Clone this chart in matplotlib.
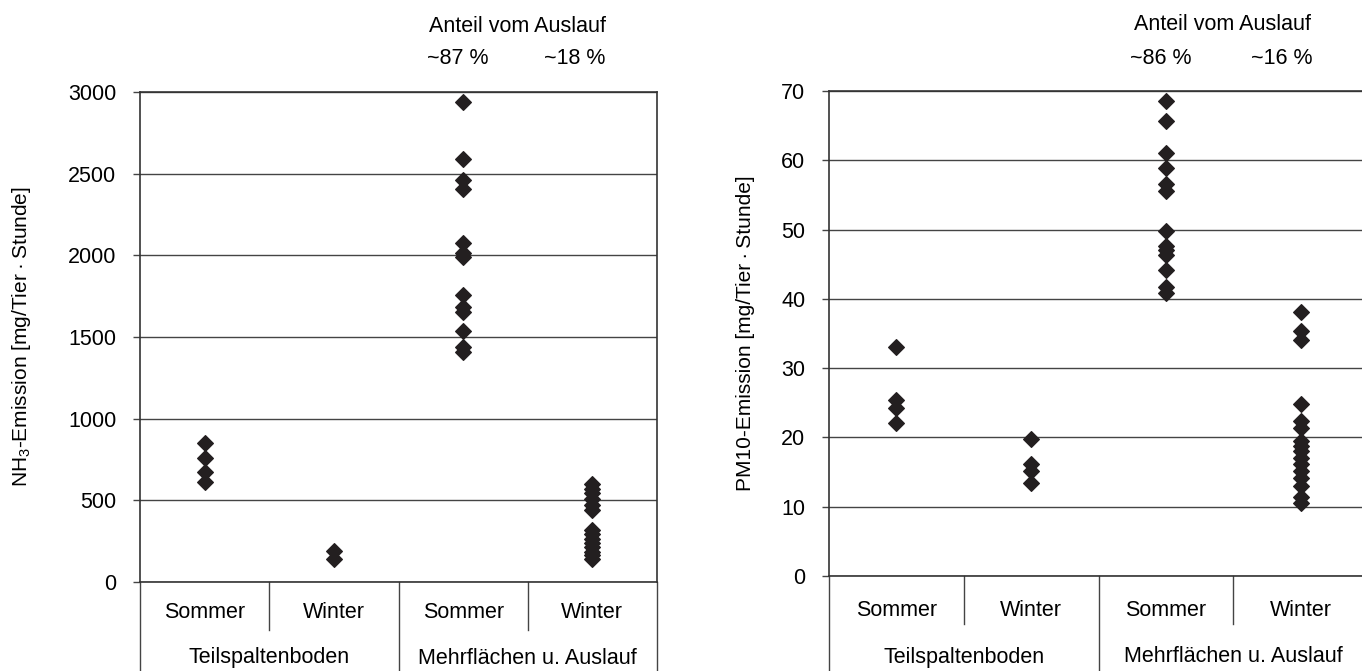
import matplotlib
matplotlib.use('Agg')
import matplotlib.pyplot as plt
from matplotlib.transforms import blended_transform_factory, offset_copy

plt.rcParams['font.family'] = ['Liberation Sans', 'DejaVu Sans']
plt.rcParams['mathtext.default'] = 'regular'

# categories
seasons = ['Sommer', 'Winter', 'Sommer', 'Winter']
systems = ['Teilspaltenboden', 'Mehrflächen u. Auslauf']

# NH3 emission [mg/Tier*Stunde]
nh3_tsb_sommer = [850, 760, 675, 615]
nh3_tsb_winter = [192, 142]
nh3_mf_sommer = [2940, 2590, 2460, 2405, 2075, 2015, 1990, 1755, 1685, 1655, 1535, 1440, 1410]
nh3_mf_winter = [598, 570, 545, 510, 470, 440, 320, 295, 265, 240, 215, 185, 165, 141]
nh3_share = ['~87 %', '~18 %']

# PM10 emission [mg/Tier*Stunde]
pm_tsb_sommer = [33.1, 25.4, 24.2, 22.1]
pm_tsb_winter = [19.75, 16.2, 15.1, 13.4]
pm_mf_sommer = [68.6, 65.6, 61.1, 58.9, 56.6, 55.5, 49.8, 47.6, 47.1, 46.3, 44.1, 41.7, 40.8]
pm_mf_winter = [38.1, 35.4, 34.1, 24.8, 22.4, 21.3, 19.5, 18.8, 18.1, 17.1, 16.2,
                15.2, 14.2, 13.0, 11.4, 10.6]
pm_share = ['~86 %', '~16 %']

FS = 15.5
DARK = '#231f20'
LINE = '#444444'

fig = plt.figure(figsize=(13.62, 6.71), dpi=100)


def draw_panel(rect, groups, ymax, step, ylabel, shares, label_x, sub_off, grp_off):
    ax = fig.add_axes(rect)
    for i, vals in enumerate(groups):
        ax.plot([i + 0.5] * len(vals), vals, linestyle='none', marker='D',
                ms=8.2, mew=0.8, color=DARK, mec=DARK, zorder=3)
    ax.set_xlim(0, 4)
    ax.set_ylim(0, ymax)
    ax.set_yticks(range(0, ymax + 1, step))
    ax.set_xticks([])
    ax.yaxis.grid(True, color=LINE, lw=1.0)
    ax.set_axisbelow(True)
    ax.tick_params(axis='y', length=5, width=1, color=LINE, pad=12, labelsize=FS)
    for sp in ax.spines.values():
        sp.set_color('#333333')
        sp.set_linewidth(1.2)
    ax.set_ylabel(ylabel, fontsize=15)
    ax.yaxis.set_label_coords(label_x, 0.5)

    h = ax.bbox.height
    trans = blended_transform_factory(ax.transData, ax.transAxes)

    # category labels below the axis
    for i, s in enumerate(seasons):
        ax.text(i + 0.5, 0, s, fontsize=FS, ha='center', va='center',
                transform=offset_copy(trans, fig, y=-sub_off, units='dots'))
    for j, s in enumerate(systems):
        ax.text(2 * j + 1, 0, s, fontsize=FS, ha='center', va='center',
                transform=offset_copy(trans, fig, y=-grp_off, units='dots'))

    # separators below the axis
    for x in [1, 3]:
        ax.plot([x, x], [0, -48 / h], color=LINE, lw=1.0, transform=trans, clip_on=False)
    for x in [0, 2, 4]:
        ax.plot([x, x], [0, -1], color=LINE, lw=1.0, transform=trans, clip_on=False)

    # share of the outdoor run
    ax.text(2.92, 1, 'Anteil vom Auslauf', fontsize=FS, ha='center', va='center',
            transform=offset_copy(trans, fig, y=66, units='dots'))
    for x, s in zip([2.46, 3.36], shares):
        ax.text(x, 1, s, fontsize=FS, ha='center', va='center',
                transform=offset_copy(trans, fig, y=33, units='dots'))
    return ax


W, H = 1362, 671
draw_panel([140 / W, 1 - 582 / H, 517 / W, 490 / H],
           [nh3_tsb_sommer, nh3_tsb_winter, nh3_mf_sommer, nh3_mf_winter],
           3000, 500, 'NH$_3$-Emission [mg/Tier\u2009·\u2009Stunde]', nh3_share,
           -0.207, 31, 76)
draw_panel([829 / W, 1 - 576 / H, 539 / W, 485 / H],
           [pm_tsb_sommer, pm_tsb_winter, pm_mf_sommer, pm_mf_winter],
           70, 10, 'PM10-Emission [mg/Tier\u2009·\u2009Stunde]', pm_share,
           -0.137, 35, 81)

fig.savefig('out.png', dpi=100)
